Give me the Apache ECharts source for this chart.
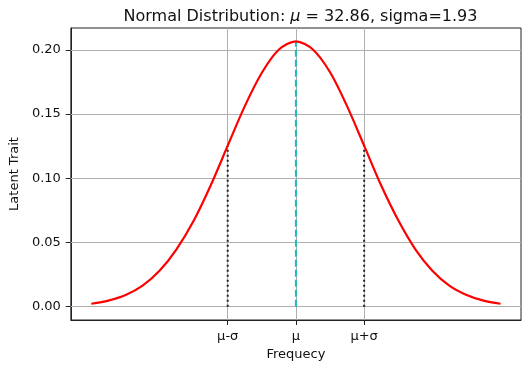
<!DOCTYPE html>
<html>
<head>
<meta charset="utf-8">
<script src="https://cdn.jsdelivr.net/npm/echarts@6/dist/echarts.min.js"></script>
<style>html,body{margin:0;padding:0;background:#fff;}#c{width:529px;height:368px;}</style>
</head>
<body>
<div id="c"></div>
<script>
// Data
const curveX = [27.07, 27.55, 28.04, 28.52, 29.00, 29.48, 29.97, 30.45, 30.93, 31.41, 31.90, 32.38, 32.86,
                33.34, 33.83, 34.31, 34.79, 35.27, 35.76, 36.24, 36.72, 37.20, 37.69, 38.17, 38.65];
const curveY = [0.0023, 0.0047, 0.0091, 0.0164, 0.0280, 0.0447, 0.0671, 0.0946, 0.1254, 0.1560, 0.1824, 0.2003, 0.2067,
                0.2003, 0.1824, 0.1560, 0.1254, 0.0946, 0.0671, 0.0447, 0.0280, 0.0164, 0.0091, 0.0047, 0.0023];
const meanX = 32.86;
const meanY = 0.2067;
const sigmaX = [30.93, 34.79];
const sigmaY = 0.1254;
const xTickValues = [30.93, 32.86, 34.79];
const xTickLabels = ['μ-σ', 'μ', 'μ+σ'];
const yTickValues = [0, 0.05, 0.10, 0.15, 0.20];
const yTickLabels = ['0.00', '0.05', '0.10', '0.15', '0.20'];

const FONT = 'DejaVu Sans';
const chart = echarts.init(document.getElementById('c'), null, {renderer: 'canvas'});
const gridColor = '#b0b0b0';

const markLineData = [];
xTickValues.forEach(v => markLineData.push({xAxis: v}));
yTickValues.forEach(v => markLineData.push({yAxis: v}));

chart.setOption({
  animation: false,
  title: {
    text: '{n|Normal Distribution: }{i|μ}{n| = 32.86, sigma=1.93}',
    left: 295.5,
    textAlign: 'center',
    top: 4,
    textStyle: {
      fontWeight: 'normal',
      rich: {
        n: {fontFamily: FONT, fontSize: 16, color: '#111', fontWeight: 'normal'},
        i: {fontFamily: FONT, fontSize: 16, color: '#111', fontStyle: 'italic', fontWeight: 'normal'}
      }
    }
  },
  grid: {left: 70, right: 8, top: 28, bottom: 48, show: true, borderColor: '#222', borderWidth: 1, backgroundColor: 'transparent'},
  xAxis: {
    type: 'value',
    min: 26.491, max: 39.229,
    axisLine: {show: true, onZero: false, lineStyle: {color: '#222', width: 1}},
    axisTick: {show: true, length: 5, customValues: xTickValues, lineStyle: {color: '#222'}},
    axisLabel: {
      customValues: xTickValues,
      fontFamily: FONT, fontSize: 13, color: '#111', margin: 10,
      formatter: function (v) {
        let best = 0;
        xTickValues.forEach((t, i) => { if (Math.abs(t - v) < Math.abs(xTickValues[best] - v)) best = i; });
        return xTickLabels[best];
      }
    },
    splitLine: {show: false},
    name: 'Frequecy', nameLocation: 'middle', nameGap: 28,
    nameTextStyle: {fontFamily: FONT, fontSize: 13, color: '#111'}
  },
  yAxis: {
    type: 'value',
    min: -0.01034, max: 0.21704,
    axisLine: {show: true, onZero: false, lineStyle: {color: '#222', width: 1}},
    axisTick: {show: true, length: 5, customValues: yTickValues, lineStyle: {color: '#222'}},
    axisLabel: {
      customValues: yTickValues,
      fontFamily: FONT, fontSize: 13, color: '#111', margin: 10,
      formatter: function (v) {
        let best = 0;
        yTickValues.forEach((t, i) => { if (Math.abs(t - v) < Math.abs(yTickValues[best] - v)) best = i; });
        return yTickLabels[best];
      }
    },
    splitLine: {show: false},
    name: 'Latent Trait', nameLocation: 'middle', nameGap: 48,
    nameTextStyle: {fontFamily: FONT, fontSize: 13, color: '#111'}
  },
  series: [
    {
      type: 'line', data: [], z: 1, silent: true,
      markLine: {
        z: 1,
        silent: true, symbol: 'none', label: {show: false}, animation: false,
        lineStyle: {color: gridColor, width: 1, type: 'solid'},
        data: markLineData
      }
    },
    {
      type: 'line', z: 3,
      data: [[sigmaX[0], 0], [sigmaX[0], sigmaY]],
      showSymbol: false, symbol: 'none',
      lineStyle: {color: '#222', width: 2, type: [2, 3]}
    },
    {
      type: 'line', z: 3,
      data: [[sigmaX[1], 0], [sigmaX[1], sigmaY]],
      showSymbol: false, symbol: 'none',
      lineStyle: {color: '#222', width: 2, type: [2, 3]}
    },
    {
      type: 'line', z: 3,
      data: [[meanX, 0], [meanX, meanY]],
      showSymbol: false, symbol: 'none',
      lineStyle: {color: '#19bfbf', width: 2, type: [7, 3]}
    },
    {
      type: 'line', z: 4,
      data: curveX.map((x, i) => [x, curveY[i]]),
      smooth: 0.3, showSymbol: false, symbol: 'none',
      lineStyle: {color: '#ff0000', width: 2.2}
    }
  ]
});
</script>
</body>
</html>
